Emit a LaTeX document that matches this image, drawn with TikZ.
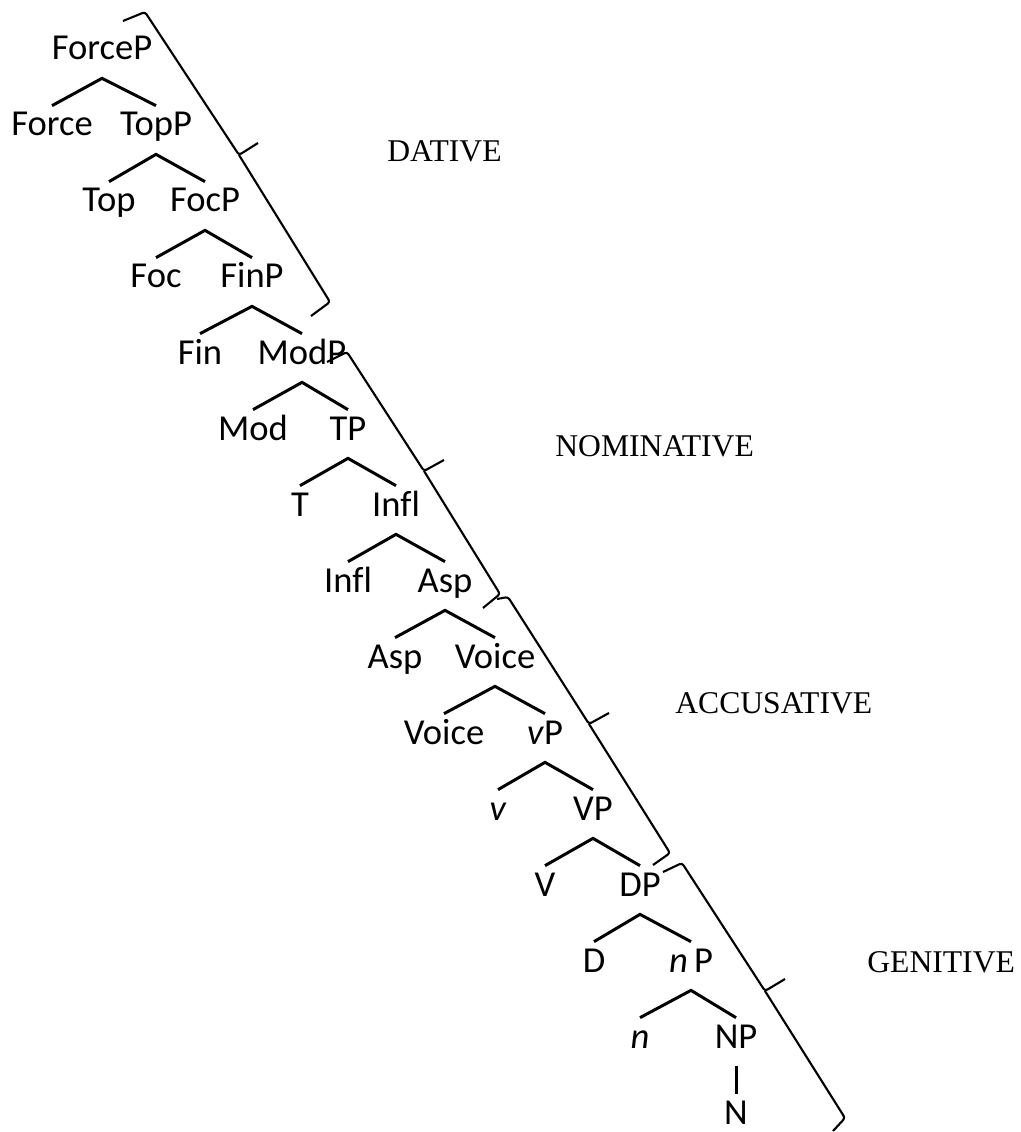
\documentclass[tikz,border=0pt]{standalone}
\usepackage{fontspec}
\setmainfont{Liberation Serif}
\newfontfamily\treefont[Ligatures=NoCommon]{Carlito}
\tikzset{
  cat/.style ={font=\treefont\fontsize{20.8}{25}\selectfont, anchor=base, text height=0.50cm, text depth=0.26cm, inner xsep=2pt, inner ysep=0.1cm},
  case/.style={font=\fontsize{18}{21}\selectfont, anchor=base west, inner sep=0pt},
  br/.style  ={draw=black, line width=1.7pt},
  cb/.style  ={draw=black, line width=1.2pt, rounded corners=1.5pt},
}
\begin{document}
\begin{tikzpicture}
\useasboundingbox (0,0) rectangle (20.42,-22.64);
%% ---------- left periphery ----------
\node[cat] (forcep) at (2.04,-1.20)  {ForceP};
\node[cat] (force)  at (1.04,-2.72)  {Force};
\node[cat] (topp)   at (3.12,-2.72)  {TopP};
\node[cat] (top)    at (2.18,-4.24)  {Top};
\node[cat] (focp)   at (4.10,-4.24)  {FocP};
\node[cat] (foc)    at (3.12,-5.76)  {Foc};
\node[cat] (finp)   at (5.04,-5.76)  {FinP};
\node[cat] (fin)    at (4.00,-7.28)  {Fin};
\node[cat] (modp)   at (6.04,-7.28)  {ModP};
%% ---------- inflectional layer ----------
\node[cat] (mod)    at (5.06,-8.80)  {Mod};
\node[cat] (tp)     at (6.96,-8.80)  {TP};
\node[cat] (t)      at (6.00,-10.32) {T};
\node[cat] (inflp)  at (7.92,-10.32) {Infl};
\node[cat] (infl)   at (6.96,-11.84) {Infl};
\node[cat] (aspp)   at (8.90,-11.84) {Asp};
\node[cat] (asp)    at (7.90,-13.36) {Asp};
\node[cat] (voicep) at (9.90,-13.36) {Voice};
%% ---------- verbal layer ----------
\node[cat] (voice)  at (8.88,-14.88) {Voice};
\node[cat] (lvp)    at (10.90,-14.88) {\textit{v}P};
\node[cat] (lv)     at (9.96,-16.40) {\textit{v}};
\node[cat] (vp)     at (11.86,-16.40) {VP};
\node[cat] (v)      at (10.90,-17.92) {V};
\node[cat] (dp)     at (12.80,-17.92) {DP};
%% ---------- nominal layer ----------
\node[cat] (d)      at (11.88,-19.44) {D};
\node[cat] (lnp)    at (13.82,-19.44) {\textit{n}\,P};
\node[cat] (ln)     at (12.80,-20.96) {\textit{n}};
\node[cat] (np)     at (14.72,-20.96) {NP};
\node[cat] (n)      at (14.72,-22.48) {N};
%% ---------- branches ----------
\draw[br] (force.north) -- (forcep.south) -- (topp.north);
\draw[br] (top.north)   -- (topp.south)   -- (focp.north);
\draw[br] (foc.north)   -- (focp.south)   -- (finp.north);
\draw[br] (fin.north)   -- (finp.south)   -- (modp.north);
\draw[br] (mod.north)   -- (modp.south)   -- (tp.north);
\draw[br] (t.north)     -- (tp.south)     -- (inflp.north);
\draw[br] (infl.north)  -- (inflp.south)  -- (aspp.north);
\draw[br] (asp.north)   -- (aspp.south)   -- (voicep.north);
\draw[br] (voice.north) -- (voicep.south) -- (lvp.north);
\draw[br] (lv.north)    -- (lvp.south)    -- (vp.north);
\draw[br] (v.north)     -- (vp.south)     -- (dp.north);
\draw[br] (d.north)     -- (dp.south)     -- (lnp.north);
\draw[br] (ln.north)    -- (lnp.south)    -- (np.north);
\draw[br] (np.south) -- (n.north);
%% ---------- case braces ----------
\draw[cb] (2.46,-0.42) -- (2.90,-0.24) -- (4.78,-3.10) -- (5.16,-2.86);
\draw[cb] (4.78,-3.10) -- (6.60,-6.04) -- (6.22,-6.32);
\draw[cb] (6.54,-7.24) -- (6.94,-7.04) -- (8.48,-9.42) -- (8.88,-9.20);
\draw[cb] (8.48,-9.42) -- (10.00,-11.88) -- (9.66,-12.16);
\draw[cb] (9.94,-11.98) -- (10.16,-11.94) -- (11.78,-14.48) -- (12.18,-14.26);
\draw[cb] (11.78,-14.48) -- (13.40,-17.06) -- (13.06,-17.30);
\draw[cb] (13.26,-17.44) -- (13.64,-17.26) -- (15.30,-19.82) -- (15.70,-19.58);
\draw[cb] (15.30,-19.82) -- (16.90,-22.36) -- (16.66,-22.62);
% case labels
\node[case] (dat) at (7.74,-3.24)   {DATIVE};
\node[case] (nom) at (11.10,-9.12)  {NOMINATIVE};
\node[case] (acc) at (13.50,-14.26) {ACCUSATIVE};
\node[case] (gen) at (17.34,-19.44) {GENITIVE};
\end{tikzpicture}
\end{document}
